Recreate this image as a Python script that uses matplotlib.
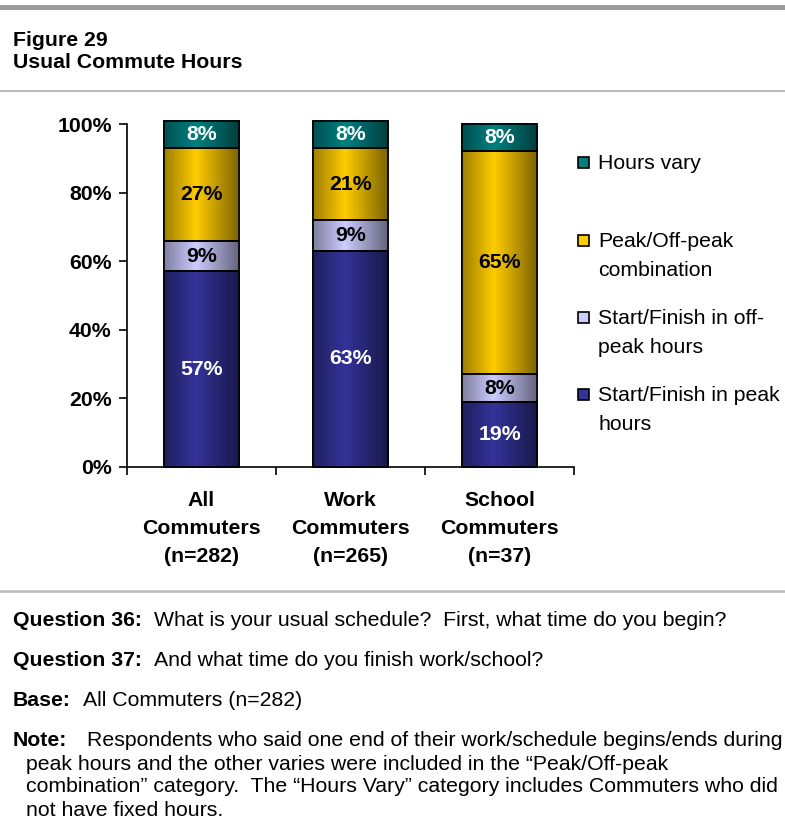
import matplotlib
matplotlib.use("Agg")
import matplotlib.pyplot as plt
import numpy as np
from matplotlib.colors import LinearSegmentedColormap, to_rgb
from matplotlib.patches import Rectangle
from matplotlib.lines import Line2D

plt.rcParams['font.family'] = ['Liberation Sans', 'DejaVu Sans']

# ---- data -------------------------------------------------------------
groups = ["All\nCommuters\n(n=282)", "Work\nCommuters\n(n=265)", "School\nCommuters\n(n=37)"]
series = ["Start/Finish in peak\nhours",
          "Start/Finish in off-\npeak hours",
          "Peak/Off-peak\ncombination",
          "Hours vary"]
peak = [57, 63, 19]
offpeak = [9, 9, 8]
combo = [27, 21, 65]
vary = [8, 8, 8]
yticks = [0, 20, 40, 60, 80, 100]

values = [peak, offpeak, combo, vary]
base_colors = ["#333399", "#CCCCFF", "#FFCC00", "#008080"]
label_colors = ["white", "black", "black", "white"]

FS = 15.3
W, H = 785, 825
fig = plt.figure(figsize=(W / 100, H / 100), dpi=100)


def fx(px):
    return px / W


def fy(py):
    return 1 - py / H


def shade_cmap(color):
    r, g, b = to_rgb(color)
    stops = [(0.0, 0.62), (0.42, 1.0), (1.0, 0.48)]
    cols = [(p, (r * k, g * k, b * k)) for p, k in stops]
    return LinearSegmentedColormap.from_list("shade", cols)


grad = np.linspace(0, 1, 256).reshape(1, -1)

# ---- header rules and title -------------------------------------------
fig.add_artist(Line2D([0, 1], [fy(7), fy(7)], color="#999999", lw=3.5,
                      transform=fig.transFigure))
fig.add_artist(Line2D([0, 1], [fy(91), fy(91)], color="#bdbdbd", lw=1.5,
                      transform=fig.transFigure))
fig.add_artist(Line2D([0, 1], [fy(591), fy(591)], color="#bdbdbd", lw=2,
                      transform=fig.transFigure))
fig.text(fx(13), fy(41), "Figure 29", fontsize=FS, fontweight="bold",
         va="center", ha="left")
fig.text(fx(13), fy(63), "Usual Commute Hours", fontsize=FS,
         fontweight="bold", va="center", ha="left")

# ---- stacked bars -----------------------------------------------------
ax = fig.add_axes([fx(127), fy(467), fx(574) - fx(127), fy(124) - fy(467)])
x = np.arange(len(groups))
bottom = np.zeros(len(groups))
for vals, col, lc in zip(values, base_colors, label_colors):
    bars = ax.bar(x, vals, width=0.505, bottom=bottom, color=col,
                  edgecolor="black", linewidth=1.2, zorder=3, clip_on=False)
    cmap = shade_cmap(col)
    for rect, v, b0 in zip(bars, vals, bottom):
        x0 = rect.get_x()
        im = ax.imshow(grad, cmap=cmap, aspect="auto", zorder=3.5,
                       extent=(x0, x0 + rect.get_width(), b0, b0 + v),
                       interpolation="bilinear", clip_on=False)
        im.set_clip_path(rect)
        ax.add_patch(Rectangle((x0, b0), rect.get_width(), v, fill=False,
                               edgecolor="black", linewidth=1.2, zorder=4,
                               clip_on=False))
        ax.text(x0 + rect.get_width() / 2, b0 + v / 2, f"{v}%",
                ha="center", va="center", fontsize=FS, fontweight="bold",
                color=lc, zorder=5)
    bottom += np.array(vals)

ax.set_xlim(-0.5, 2.5)
ax.set_ylim(0, 100)
ax.set_yticks(yticks)
ax.set_yticklabels([f"{t}%" for t in yticks], fontsize=FS, fontweight="bold")
ax.set_xticks([-0.5, 0.5, 1.5, 2.5])
ax.set_xticklabels([])
ax.set_xticks(x, minor=True)
ax.set_xticklabels(groups, minor=True, fontsize=FS, fontweight="bold",
                   linespacing=1.62)
ax.tick_params(axis="x", which="minor", length=0, pad=17)
ax.tick_params(axis="x", which="major", length=6, width=1.2, direction="out")
ax.tick_params(axis="y", length=6, width=1.2, direction="out", pad=5)
for s in ["top", "right"]:
    ax.spines[s].set_visible(False)
for s in ["left", "bottom"]:
    ax.spines[s].set_linewidth(1.2)
ax.set_facecolor("none")

# ---- legend ------------------------------------------------------------
legend_rows = [162, 240, 317, 394]
for name, col, py in zip(series[::-1], base_colors[::-1], legend_rows):
    sq = Rectangle((fx(578), fy(py + 6)), fx(11), fx(11) * W / H,
                   transform=fig.transFigure, facecolor=col,
                   edgecolor="black", linewidth=1.2)
    fig.add_artist(sq)
    fig.text(fx(598), fy(py - 8), name, fontsize=FS, va="top", ha="left",
             linespacing=1.68)

# ---- notes ------------------------------------------------------------
renderer = fig.canvas.get_renderer()


def labelled(py, head, body, gap=12):
    t = fig.text(fx(13), fy(py), head, fontsize=FS, fontweight="bold",
                 va="center", ha="left")
    bb = t.get_window_extent(renderer)
    fig.text(fx(bb.x1 + gap), fy(py), body, fontsize=FS, va="center",
             ha="left")


labelled(621, "Question 36:", "What is your usual schedule?  First, what time do you begin?")
labelled(661, "Question 37:", "And what time do you finish work/school?")
labelled(701, "Base:", "All Commuters (n=282)")
labelled(741, "Note:", "Respondents who said one end of their work/schedule begins/ends during", gap=20)
note_lines = [
    "peak hours and the other varies were included in the \u201cPeak/Off-peak",
    "combination\u201d category.  The \u201cHours Vary\u201d category includes Commuters who did",
    "not have fixed hours.",
]
for i, line in enumerate(note_lines):
    fig.text(fx(26), fy(764 + 23 * i), line, fontsize=FS, va="center",
             ha="left")

fig.savefig("out.png", dpi=100)
